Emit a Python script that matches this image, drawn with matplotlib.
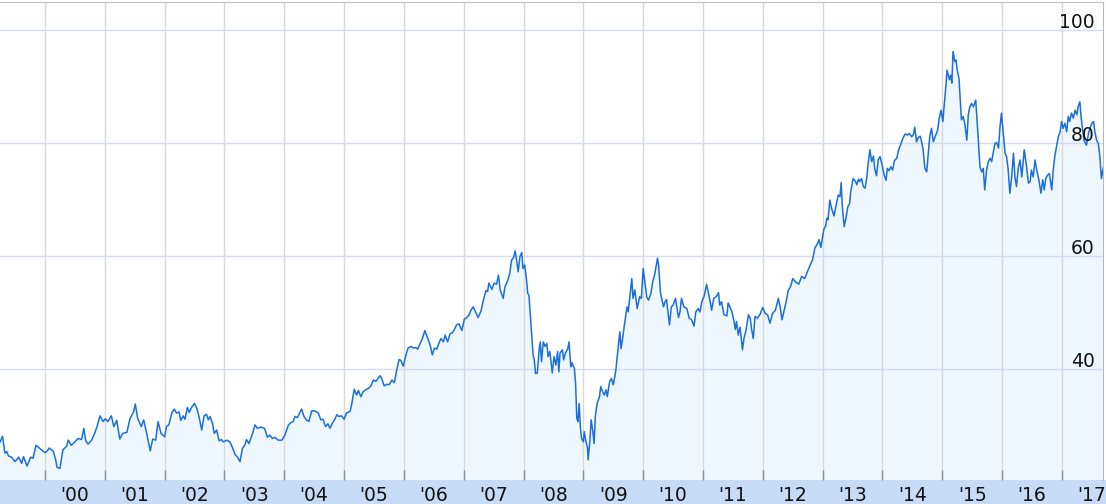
import numpy as np
import matplotlib
matplotlib.use('Agg')
import matplotlib.pyplot as plt
import matplotlib.transforms as mtransforms
from matplotlib.patches import Rectangle

# weekly closes, (decimal year, price)
p_1999_2001 = [(1999.25, 27.1), (1999.29, 28.1), (1999.33, 25.1), (1999.36, 25.4), (1999.39, 24.6),
               (1999.44, 24.4), (1999.50, 23.6), (1999.56, 24.4), (1999.61, 23.3), (1999.64, 24.5),
               (1999.70, 22.8), (1999.76, 24.4), (1999.80, 24.2), (1999.85, 26.5), (1999.94, 25.7),
               (2000.00, 25.2), (2000.03, 25.4), (2000.07, 26.0), (2000.11, 25.7), (2000.14, 25.4),
               (2000.18, 23.9), (2000.20, 22.6), (2000.25, 22.4), (2000.30, 25.7), (2000.36, 26.3),
               (2000.39, 27.4), (2000.44, 26.5), (2000.50, 27.1), (2000.55, 27.7), (2000.61, 27.5),
               (2000.65, 29.5), (2000.68, 27.3), (2000.72, 26.7), (2000.78, 27.4), (2000.83, 28.6),
               (2000.87, 29.8), (2000.92, 31.7), (2000.97, 30.7), (2001.01, 31.2), (2001.05, 30.7),
               (2001.11, 31.7), (2001.15, 29.8), (2001.20, 30.9), (2001.25, 27.6), (2001.30, 28.6),
               (2001.37, 28.8), (2001.42, 31.2), (2001.48, 32.4), (2001.51, 33.8), (2001.55, 31.2),
               (2001.61, 29.8), (2001.65, 31.0), (2001.70, 28.6), (2001.76, 25.5), (2001.80, 27.6),
               (2001.85, 27.4)]
p_2002_2004 = [(2001.89, 30.7), (2001.94, 28.6), (2002.00, 28.0), (2002.03, 29.8), (2002.07, 30.1),
               (2002.12, 32.2), (2002.16, 32.9), (2002.20, 32.2), (2002.24, 32.4), (2002.27, 30.9),
               (2002.31, 31.7), (2002.34, 31.1), (2002.38, 33.2), (2002.41, 32.3), (2002.45, 33.2),
               (2002.50, 33.9), (2002.54, 33.0), (2002.58, 31.3), (2002.62, 29.2), (2002.66, 31.7),
               (2002.70, 32.0), (2002.73, 31.0), (2002.76, 31.6), (2002.80, 30.4), (2002.83, 28.6),
               (2002.87, 29.2), (2002.91, 27.3), (2002.95, 27.5), (2002.98, 27.1), (2003.04, 27.4),
               (2003.09, 27.1), (2003.13, 26.2), (2003.18, 24.8), (2003.22, 24.4), (2003.26, 23.6),
               (2003.30, 25.9), (2003.34, 26.5), (2003.37, 27.5), (2003.41, 26.8), (2003.47, 28.6),
               (2003.51, 30.1), (2003.55, 29.5), (2003.61, 29.7), (2003.67, 29.5), (2003.72, 27.9),
               (2003.76, 28.3), (2003.80, 27.7), (2003.84, 27.9), (2003.90, 27.4), (2003.96, 27.4),
               (2004.01, 28.3), (2004.07, 30.1), (2004.11, 30.5), (2004.15, 30.7), (2004.18, 31.6),
               (2004.22, 31.4), (2004.29, 32.9), (2004.33, 31.6), (2004.37, 31.0), (2004.41, 30.7),
               (2004.46, 32.6), (2004.51, 32.6)]
p_2004_2007 = [(2004.57, 32.2), (2004.61, 31.0), (2004.65, 31.1), (2004.69, 29.8), (2004.73, 30.3),
               (2004.765, 29.5), (2004.80, 30.3), (2004.84, 31.0), (2004.88, 31.9), (2004.91, 31.6),
               (2004.96, 31.7), (2005.00, 31.1), (2005.04, 32.2), (2005.10, 32.5), (2005.13, 33.9),
               (2005.17, 36.4), (2005.21, 35.4), (2005.24, 36.2), (2005.28, 35.1), (2005.32, 36.0),
               (2005.36, 36.3), (2005.41, 36.6), (2005.45, 37.0), (2005.49, 38.05), (2005.53, 37.8),
               (2005.56, 38.2), (2005.60, 38.8), (2005.63, 38.3), (2005.67, 37.0), (2005.71, 37.3),
               (2005.75, 37.2), (2005.80, 38.05), (2005.84, 37.6), (2005.88, 39.8), (2005.92, 41.7),
               (2005.95, 41.5), (2005.99, 40.5), (2006.03, 42.3), (2006.07, 43.7), (2006.12, 44.0),
               (2006.16, 43.7), (2006.20, 43.8), (2006.23, 43.5), (2006.27, 44.5), (2006.31, 45.4),
               (2006.35, 46.8), (2006.40, 45.4), (2006.44, 44.2), (2006.475, 42.5), (2006.51, 43.7),
               (2006.55, 43.5), (2006.59, 44.7), (2006.62, 45.4), (2006.66, 44.8), (2006.69, 46.0),
               (2006.73, 44.8), (2006.77, 46.2), (2006.81, 46.4), (2006.84, 46.9), (2006.88, 47.8),
               (2006.92, 48.0), (2006.97, 46.8), (2007.01, 48.8), (2007.05, 49.1), (2007.09, 49.6),
               (2007.12, 50.4), (2007.16, 51.0)]
p_2007_2009 = [(2007.22, 49.6), (2007.24, 49.1), (2007.29, 50.3), (2007.33, 52.2), (2007.37, 53.9),
               (2007.40, 53.7), (2007.42, 55.2), (2007.47, 54.1), (2007.51, 55.2), (2007.55, 55.0),
               (2007.58, 56.6), (2007.61, 54.0), (2007.66, 52.5), (2007.69, 54.6), (2007.73, 55.5),
               (2007.77, 56.9), (2007.80, 59.3), (2007.83, 59.6), (2007.86, 60.9), (2007.88, 59.6),
               (2007.91, 57.2), (2007.94, 59.9), (2007.97, 60.6), (2007.99, 57.8), (2008.02, 58.4),
               (2008.05, 55.8), (2008.07, 53.4), (2008.09, 53.1), (2008.11, 50.1), (2008.135, 46.3),
               (2008.16, 42.5), (2008.18, 41.6), (2008.20, 39.2), (2008.23, 39.3), (2008.26, 43.4),
               (2008.28, 44.8), (2008.30, 41.3), (2008.33, 44.8), (2008.36, 44.0), (2008.39, 44.5),
               (2008.41, 42.2), (2008.44, 43.1), (2008.48, 39.3), (2008.51, 42.2), (2008.54, 40.7),
               (2008.57, 43.1), (2008.59, 39.5), (2008.61, 42.8), (2008.65, 43.4), (2008.67, 41.6),
               (2008.70, 42.8), (2008.74, 43.6), (2008.76, 44.8), (2008.79, 40.4), (2008.81, 41.1),
               (2008.85, 40.1), (2008.87, 37.5), (2008.89, 31.3), (2008.91, 30.7), (2008.93, 33.9),
               (2008.95, 29.8), (2008.97, 27.7), (2009.00, 27.1), (2009.015, 28.9), (2009.04, 27.4),
               (2009.07, 26.0), (2009.08, 23.9), (2009.11, 27.4), (2009.13, 31.0), (2009.155, 29.2),
               (2009.18, 26.8), (2009.20, 31.6), (2009.23, 33.9), (2009.27, 35.1), (2009.29, 36.9),
               (2009.32, 36.0), (2009.35, 35.4), (2009.38, 36.3), (2009.40, 35.1), (2009.44, 37.8),
               (2009.47, 38.3), (2009.50, 37.2), (2009.54, 39.5), (2009.57, 42.5), (2009.61, 46.6),
               (2009.63, 43.6), (2009.66, 45.7), (2009.69, 48.1), (2009.73, 51.0), (2009.75, 50.1),
               (2009.78, 53.1), (2009.81, 56.0), (2009.83, 52.5)]
p_2009_2012 = [(2009.86, 54.0), (2009.90, 50.7), (2009.94, 52.8), (2009.97, 52.5), (2010.00, 57.8),
               (2010.03, 55.2), (2010.06, 52.7), (2010.09, 52.2), (2010.13, 53.4), (2010.16, 55.5),
               (2010.19, 56.6), (2010.24, 59.6), (2010.26, 58.1), (2010.29, 53.4), (2010.315, 52.2),
               (2010.34, 51.0), (2010.365, 51.9), (2010.39, 52.3), (2010.44, 47.8), (2010.47, 51.0),
               (2010.50, 51.3), (2010.54, 52.5), (2010.59, 49.1), (2010.615, 50.1), (2010.64, 52.5),
               (2010.68, 51.0), (2010.73, 50.7), (2010.77, 49.0), (2010.81, 48.7), (2010.85, 47.6),
               (2010.88, 50.1), (2010.92, 50.7), (2010.95, 50.1), (2010.98, 51.9), (2011.02, 52.9),
               (2011.06, 55.0), (2011.11, 52.5), (2011.145, 50.4), (2011.18, 52.5), (2011.22, 52.8),
               (2011.26, 53.5), (2011.28, 51.3), (2011.31, 51.9), (2011.35, 49.6), (2011.40, 49.4),
               (2011.42, 51.7), (2011.45, 51.0), (2011.485, 50.1), (2011.52, 48.4), (2011.54, 47.0),
               (2011.56, 48.4), (2011.59, 46.0), (2011.62, 47.4), (2011.66, 43.4), (2011.685, 45.4),
               (2011.72, 46.9), (2011.76, 49.6), (2011.79, 49.0), (2011.81, 47.2), (2011.84, 45.4),
               (2011.87, 49.3), (2011.91, 49.0), (2011.95, 49.6), (2012.00, 50.9), (2012.04, 49.8),
               (2012.08, 49.6), (2012.12, 48.1), (2012.16, 49.8), (2012.21, 50.4), (2012.26, 52.5),
               (2012.29, 51.0), (2012.32, 48.7), (2012.35, 50.1), (2012.39, 51.9), (2012.425, 53.9),
               (2012.465, 54.6), (2012.50, 56.0), (2012.55, 55.4), (2012.60, 55.0), (2012.65, 56.4),
               (2012.70, 56.0)]
p_2012_2015 = [(2012.76, 57.6), (2012.80, 58.6), (2012.83, 59.3), (2012.87, 61.4), (2012.91, 62.1),
               (2012.94, 62.9), (2012.97, 61.5), (2013.00, 63.4), (2013.02, 64.7), (2013.05, 65.3),
               (2013.07, 66.7), (2013.09, 66.4), (2013.12, 69.9), (2013.15, 68.4), (2013.19, 67.1),
               (2013.22, 68.7), (2013.26, 70.8), (2013.29, 70.5), (2013.31, 73.0), (2013.33, 68.7),
               (2013.36, 65.2), (2013.39, 66.7), (2013.42, 68.7), (2013.45, 69.2), (2013.47, 71.4),
               (2013.51, 73.7), (2013.55, 73.2), (2013.57, 72.6), (2013.60, 73.6), (2013.62, 73.2),
               (2013.65, 73.7), (2013.68, 72.3), (2013.71, 72.0), (2013.74, 74.0), (2013.76, 76.3),
               (2013.79, 78.8), (2013.82, 76.7), (2013.85, 77.7), (2013.87, 75.5), (2013.90, 74.2),
               (2013.93, 77.0), (2013.96, 77.6), (2013.99, 76.3), (2014.03, 74.3), (2014.06, 73.4),
               (2014.08, 75.5), (2014.11, 75.1), (2014.14, 75.8), (2014.17, 75.2), (2014.20, 76.9),
               (2014.24, 77.3), (2014.27, 78.8), (2014.30, 79.6), (2014.34, 80.8), (2014.38, 81.6),
               (2014.42, 81.4), (2014.45, 81.7), (2014.49, 81.1), (2014.52, 81.6), (2014.54, 82.8),
               (2014.57, 80.2), (2014.60, 81.0), (2014.63, 81.2), (2014.65, 80.5), (2014.68, 78.8),
               (2014.71, 75.5), (2014.74, 74.9), (2014.77, 78.5), (2014.79, 81.1), (2014.82, 82.6),
               (2014.85, 80.2), (2014.88, 81.1), (2014.92, 82.2), (2014.95, 84.4), (2014.98, 85.8),
               (2015.01, 83.8), (2015.03, 86.4)]
p_2015_2017 = [(2015.06, 90.0), (2015.08, 92.9), (2015.12, 91.2), (2015.14, 92.0), (2015.16, 90.6),
               (2015.18, 96.2), (2015.21, 94.4), (2015.23, 94.7), (2015.25, 92.9), (2015.28, 91.4),
               (2015.32, 84.1), (2015.35, 84.7), (2015.38, 83.2), (2015.41, 80.5), (2015.435, 85.0),
               (2015.46, 86.4), (2015.49, 87.0), (2015.52, 86.4), (2015.56, 87.6), (2015.57, 85.8),
               (2015.60, 81.1), (2015.63, 75.8), (2015.66, 74.9), (2015.685, 75.5), (2015.71, 71.7),
               (2015.74, 75.2), (2015.77, 76.7), (2015.80, 77.3), (2015.825, 76.7), (2015.85, 78.2),
               (2015.88, 79.9), (2015.91, 80.1), (2015.94, 79.1), (2015.965, 82.9), (2015.99, 85.3),
               (2016.02, 81.7), (2016.05, 78.2), (2016.075, 77.6), (2016.10, 75.5), (2016.13, 71.1),
               (2016.16, 74.0), (2016.19, 78.2), (2016.215, 74.0), (2016.24, 72.3), (2016.27, 75.5),
               (2016.30, 77.0), (2016.33, 74.0), (2016.37, 78.8), (2016.41, 75.8), (2016.44, 72.9),
               (2016.47, 73.2), (2016.49, 75.2), (2016.52, 74.0), (2016.55, 77.0), (2016.58, 75.2),
               (2016.62, 73.2), (2016.65, 71.1), (2016.68, 73.5), (2016.705, 71.7), (2016.73, 73.7),
               (2016.76, 74.3), (2016.79, 74.6), (2016.83, 71.7), (2016.855, 75.2), (2016.88, 77.6),
               (2016.91, 79.3), (2016.94, 81.1), (2016.97, 82.0), (2016.995, 83.8), (2017.02, 82.6),
               (2017.05, 83.5), (2017.08, 82.0), (2017.105, 84.7), (2017.13, 83.8), (2017.16, 85.3),
               (2017.19, 84.4), (2017.22, 85.8), (2017.25, 85.0), (2017.27, 86.4), (2017.30, 87.3),
               (2017.32, 84.7), (2017.34, 82.9), (2017.37, 80.5), (2017.41, 79.6), (2017.45, 82.0),
               (2017.50, 83.5), (2017.53, 83.8), (2017.55, 82.0), (2017.58, 80.5), (2017.61, 79.9),
               (2017.635, 77.6), (2017.66, 73.7), (2017.69, 75.5), (2017.72, 76.7)]

years = list(range(2000, 2018))
year_labels = ["'%02d" % (y % 100) for y in years]
price_ticks = [40, 60, 80, 100]

pts = np.array(p_1999_2001 + p_2002_2004 + p_2004_2007 + p_2007_2009
               + p_2009_2012 + p_2012_2015 + p_2015_2017)
t, price = pts[:, 0], pts[:, 1]

W, H = 1106, 504
fig = plt.figure(figsize=(W / 100, H / 100), dpi=100)
fig.patch.set_facecolor('white')
# light blue band behind the year labels
fig.add_artist(Rectangle((0, 0), 1, 24 / H, transform=fig.transFigure,
                         facecolor='#c6dbf6', edgecolor='none', zorder=0))

ax = fig.add_axes([0, 24 / H, 1103 / W, 478 / H])
ax.set_facecolor('white')
ax.fill_between(t, price, 0, color='#eef7fe', lw=0, zorder=1)
ax.plot(t, price, color='#1a6fd9', lw=1.1, zorder=3)

ax.set_xlim(1999.248, 2017.687)
ax.set_ylim(20.35, 104.96)

ax.set_xticks(years)
ax.set_xticklabels([])
ax.set_xticks([y + 0.5 for y in years], minor=True)
ax.set_xticklabels(year_labels, minor=True, fontsize=13.5, color='#111111')
ax.tick_params(axis='x', which='major', direction='in', length=7.2, width=1, color='#8c8c8c')
ax.tick_params(axis='x', which='minor', length=0, pad=4)
ax.set_yticks(price_ticks)
ax.tick_params(axis='y', length=0, labelleft=False)

ax.grid(axis='x', which='major', color='#d8d8d8', lw=1, zorder=2)
ax.grid(axis='y', color='#d4daf4', lw=1, zorder=2)

for s in ['left', 'bottom']:
    ax.spines[s].set_visible(False)
ax.spines['top'].set_color('#c4c4c4')
ax.spines['right'].set_color('#b8b8b8')

trans = mtransforms.blended_transform_factory(ax.transAxes, ax.transData)
trans = mtransforms.offset_copy(trans, fig=fig, x=0, y=1.5, units='points')
for p in price_ticks:
    ax.text(1095 / 1103, p, str(p), transform=trans, ha='right', va='baseline',
            fontsize=13.5, color='#111111', zorder=4)

plt.savefig('out.png', dpi=100)
